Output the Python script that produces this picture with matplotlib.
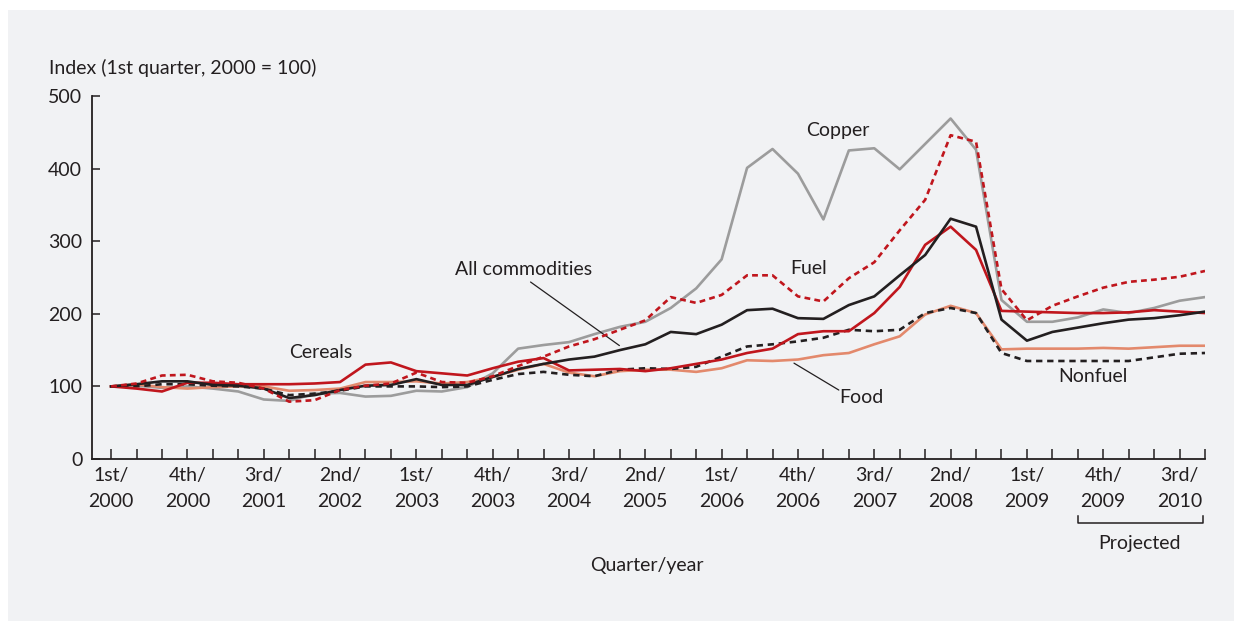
import matplotlib
matplotlib.use("Agg")
import matplotlib.pyplot as plt
from matplotlib.patches import Rectangle
from matplotlib.lines import Line2D

plt.rcParams['font.family'] = ['Lato', 'DejaVu Sans']

# Quarters 1Q2000 .. 4Q2010 (44 quarters)
quarters = list(range(44))
tick_pos = list(range(0, 43, 3))
tick_labels = ["1st/\n2000", "4th/\n2000", "3rd/\n2001", "2nd/\n2002", "1st/\n2003",
               "4th/\n2003", "3rd/\n2004", "2nd/\n2005", "1st/\n2006", "4th/\n2006",
               "3rd/\n2007", "2nd/\n2008", "1st/\n2009", "4th/\n2009", "3rd/\n2010"]

copper = [100, 101, 98, 100, 97, 93, 82, 80, 90, 91, 86, 87, 94, 93, 99, 118, 152, 157,
          161, 172, 182, 189, 208, 235, 275, 401, 427, 393, 330, 425, 428, 399, 434, 469,
          426, 219, 189, 189, 195, 206, 201, 208, 218, 223]
fuel = [100, 104, 115, 116, 107, 105, 97, 79, 81, 95, 101, 104, 119, 106, 105, 114, 128, 141,
        155, 165, 178, 191, 223, 215, 226, 253, 253, 224, 217, 249, 271, 315, 357, 446,
        437, 234, 191, 211, 224, 236, 244, 247, 251, 259]
all_commodities = [100, 103, 107, 107, 102, 101, 97, 84, 88, 95, 101, 102, 110, 102, 102, 113,
                   124, 131, 137, 141, 150, 158, 175, 172, 185, 205, 207, 194, 193, 212, 224,
                   253, 281, 331, 320, 192, 163, 175, 181, 187, 192, 194, 198, 203]
cereals = [100, 97, 93, 105, 105, 103, 103, 103, 104, 106, 130, 133, 121, 118, 115, 125, 134,
           139, 122, 123, 124, 121, 125, 131, 137, 146, 152, 172, 176, 176, 201, 237, 295,
           320, 288, 204, 203, 202, 201, 201, 202, 205, 203, 201]
food = [100, 103, 99, 97, 99, 100, 100, 94, 95, 97, 106, 106, 107, 104, 106, 113, 123, 131,
        119, 114, 121, 123, 123, 120, 125, 136, 135, 137, 143, 146, 158, 169, 199, 211, 201,
        151, 152, 152, 152, 153, 152, 154, 156, 156]
nonfuel = [100, 100, 103, 103, 101, 100, 97, 88, 90, 94, 100, 100, 100, 99, 100, 109, 117,
           120, 116, 114, 123, 125, 124, 127, 141, 155, 158, 162, 167, 178, 176, 178, 201,
           208, 201, 146, 135, 135, 135, 135, 135, 140, 145, 146]

W, H = 1242, 621
fig = plt.figure(figsize=(W / 100, H / 100), dpi=100)
fig.patch.set_facecolor('white')
panel_color = '#f1f2f4'
fig.patches.append(Rectangle((8 / W, 0), (1234 - 8) / W, 1 - 10 / H,
                             transform=fig.transFigure, facecolor=panel_color,
                             edgecolor='none', zorder=-10))

ax = fig.add_axes([92 / W, 1 - 459 / H, (1205 - 92) / W, (459 - 96) / H])
ax.set_facecolor('none')

txt = '#231f20'
gray = '#9c9c9c'
red = '#c0161d'
salmon = '#e3896c'
lw = 1.9

ax.plot(quarters, copper, color=gray, lw=lw, zorder=2)
ax.plot(quarters, food, color=salmon, lw=lw, zorder=3)
ax.plot(quarters, nonfuel, color=txt, lw=lw, ls=(0, (2.4, 1.8)), zorder=3)
ax.plot(quarters, cereals, color=red, lw=lw, zorder=4)
ax.plot(quarters, all_commodities, color=txt, lw=lw, zorder=4)
ax.plot(quarters, fuel, color=red, lw=lw, ls=(0, (2.2, 1.6)), zorder=5)

ax.set_xlim(-0.75, 43)
ax.set_ylim(0, 500)
for s in ['top', 'right']:
    ax.spines[s].set_visible(False)
for s in ['left', 'bottom']:
    ax.spines[s].set_color(txt)
    ax.spines[s].set_linewidth(1.3)

fs = 14
ax.set_yticks([0, 100, 200, 300, 400, 500])
ax.tick_params(axis='y', direction='in', length=6, width=1.1, color=txt,
               labelsize=fs, labelcolor=txt, pad=7)
ax.set_xticks(quarters, minor=True)
ax.set_xticks(tick_pos)
ax.set_xticklabels(tick_labels, linespacing=1.6)
ax.tick_params(axis='x', which='both', direction='in', length=7, width=1.1, color=txt,
               labelsize=fs, labelcolor=txt, pad=6)

fig.text(49 / W, 1 - 68 / H, "Index (1st quarter, 2000 = 100)", fontsize=fs, color=txt,
         ha='left', va='center')
fig.text(647 / W, 1 - 565 / H, "Quarter/year", fontsize=fs, color=txt, ha='center',
         va='center')
fig.text(1140 / W, 1 - 543 / H, "Projected", fontsize=fs, color=txt, ha='center',
         va='center')
# bracket under projected period
bx0, bx1, by = 1078 / W, 1203 / W, 1 - 523 / H
bt = 7 / H
fig.add_artist(Line2D([bx0, bx0, bx1, bx1], [by + bt, by, by, by + bt],
                      transform=fig.transFigure, color=txt, lw=1.1))

# series labels
ax.text(28.55, 453, "Copper", fontsize=fs, color=txt, ha='center', va='center')
ax.text(27.4, 262, "Fuel", fontsize=fs, color=txt, ha='center', va='center')
ax.text(16.2, 261, "All commodities", fontsize=fs, color=txt, ha='center', va='center')
ax.text(8.25, 147, "Cereals", fontsize=fs, color=txt, ha='center', va='center')
ax.text(29.5, 85, "Food", fontsize=fs, color=txt, ha='center', va='center')
ax.text(38.6, 113, "Nonfuel", fontsize=fs, color=txt, ha='center', va='center')
ax.annotate("", xy=(20.07, 154), xytext=(16.4, 246),
            arrowprops=dict(arrowstyle='-', color=txt, lw=0.9))
ax.annotate("", xy=(26.75, 134), xytext=(28.7, 93),
            arrowprops=dict(arrowstyle='-', color=txt, lw=0.9))

fig.savefig("out.png", dpi=100, facecolor=fig.get_facecolor())
